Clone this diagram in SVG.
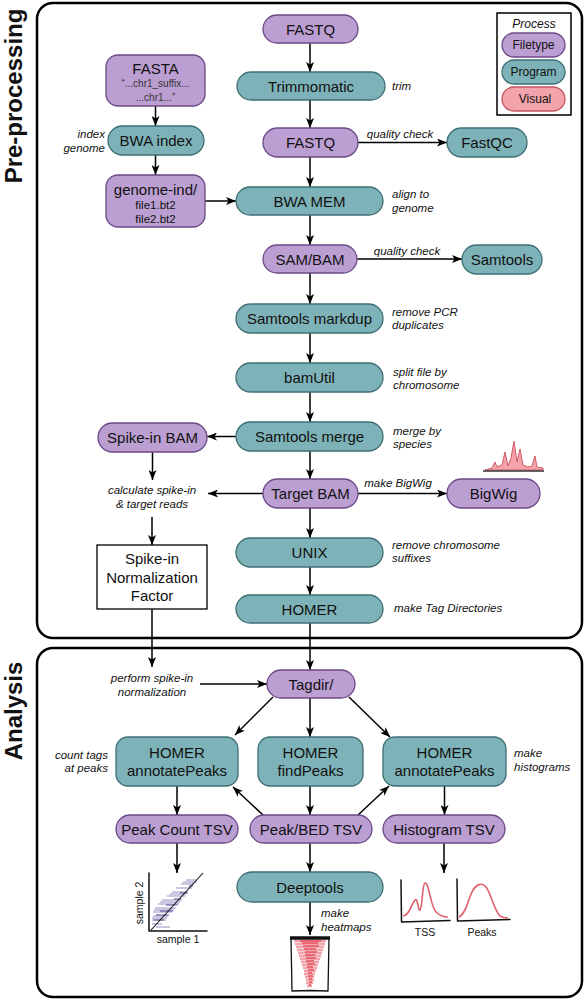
<svg xmlns="http://www.w3.org/2000/svg" width="587" height="1000" viewBox="0 0 587 1000">
<defs>
<style>
.fp{fill:#bc9fd2;stroke:#6b4a88;stroke-width:1.3}
.pg{fill:#7db3b8;stroke:#3e6f74;stroke-width:1.3}
.vs{fill:#f3a3ab;stroke:#c55763;stroke-width:1.3}
text{font-family:"Liberation Sans",Arial,sans-serif;fill:#111}
.t{font-size:15px;text-anchor:middle}
.s{font-size:11.5px;text-anchor:middle}
.l{font-size:11.5px;font-style:italic}
.lm{font-size:11.5px;font-style:italic;text-anchor:middle}
.lr{font-size:11.5px;font-style:italic;text-anchor:end}
.c{stroke:#000;stroke-width:1.5;fill:none;marker-end:url(#ah)}
.panel{fill:none;stroke:#000;stroke-width:2.5}
.side{font-size:24px;font-weight:bold;text-anchor:middle}
.ax{stroke:#111;stroke-width:1.5;fill:none;stroke-linecap:round;stroke-linejoin:round}
.red{stroke:#e0606c;stroke-width:1.6;fill:none}
.sm{font-size:10.5px;text-anchor:middle}
</style>
<marker id="ah" viewBox="0 0 10 8" refX="10" refY="4" markerWidth="10" markerHeight="8" orient="auto" markerUnits="userSpaceOnUse"><path d="M0,0 L10,4 L0,8 L2.5,4 z" fill="#000"/></marker>
</defs>
<rect width="587" height="1000" fill="#fff"/>

<g id="panels">
<rect class="panel" x="37" y="3" width="545" height="635" rx="16"/>
<rect class="panel" x="37" y="648" width="545" height="349" rx="16"/>
<text class="side" transform="translate(22,96) rotate(-90)">Pre-processing</text>
<text class="side" transform="translate(22,711) rotate(-90)">Analysis</text>
</g>

<g id="legend">
<rect x="497" y="13" width="74" height="102" fill="#fff" stroke="#000" stroke-width="1.5"/>
<text x="534" y="28" style="font-size:12px;font-style:italic;text-anchor:middle">Process</text>
<rect class="fp" x="502" y="33" width="63" height="24" rx="12"/>
<text x="533.5" y="49" style="font-size:12px;text-anchor:middle">Filetype</text>
<rect class="pg" x="502" y="60" width="63" height="24" rx="12"/>
<text x="533.5" y="76" style="font-size:12px;text-anchor:middle">Program</text>
<rect class="vs" x="502" y="87" width="63" height="24" rx="12"/>
<text x="535" y="103" style="font-size:12px;text-anchor:middle">Visual</text>
</g>

<g id="connectors">
<line class="c" x1="310" y1="43" x2="310" y2="72"/>
<line class="c" x1="310" y1="100" x2="310" y2="128"/>
<line class="c" x1="310" y1="157" x2="310" y2="187"/>
<line class="c" x1="310" y1="215" x2="310" y2="245"/>
<line class="c" x1="310" y1="273" x2="310" y2="304"/>
<line class="c" x1="310" y1="333" x2="310" y2="363"/>
<line class="c" x1="310" y1="392" x2="310" y2="422"/>
<line class="c" x1="310" y1="451" x2="310" y2="479"/>
<line class="c" x1="310" y1="508" x2="310" y2="538"/>
<line class="c" x1="310" y1="567" x2="310" y2="595"/>
<line class="c" x1="310" y1="623" x2="310" y2="670"/>
<line class="c" x1="155.5" y1="106" x2="155.5" y2="126"/>
<line class="c" x1="155.5" y1="155" x2="155.5" y2="175"/>
<line class="c" x1="205" y1="201" x2="236" y2="201"/>
<line class="c" x1="358" y1="142.5" x2="447" y2="142.5"/>
<line class="c" x1="357" y1="259" x2="462" y2="259"/>
<line class="c" x1="236" y1="436.5" x2="207" y2="436.5"/>
<line class="c" x1="152.5" y1="452" x2="152.5" y2="480"/>
<line class="c" x1="263" y1="493.5" x2="208" y2="493.5"/>
<line class="c" x1="358" y1="493.5" x2="447" y2="493.5"/>
<line class="c" x1="152" y1="517" x2="152" y2="545"/>
<line class="c" x1="152" y1="609" x2="152" y2="667"/>
<line class="c" x1="200" y1="684" x2="267" y2="684"/>
<line class="c" x1="273" y1="697" x2="235" y2="735"/>
<line class="c" x1="310" y1="698" x2="310" y2="737"/>
<line class="c" x1="349" y1="697" x2="390" y2="737"/>
<line class="c" x1="177" y1="786" x2="177" y2="815"/>
<line class="c" x1="310" y1="786" x2="310" y2="815"/>
<line class="c" x1="444.5" y1="786" x2="444.5" y2="815"/>
<line class="c" x1="263" y1="815" x2="233" y2="787"/>
<line class="c" x1="358" y1="815" x2="389" y2="786"/>
<line class="c" x1="177" y1="843" x2="177" y2="873"/>
<line class="c" x1="310" y1="843" x2="310" y2="872"/>
<line class="c" x1="444" y1="843" x2="444" y2="873"/>
<line class="c" x1="310" y1="902" x2="310" y2="935"/>
</g>

<g id="labels">
<text class="lr" x="105" y="138">index</text>
<text class="lr" x="105" y="152">genome</text>
<text class="l" x="392" y="90">trim</text>
<text class="lm" x="400" y="138">quality check</text>
<text class="l" x="392" y="198">align to</text>
<text class="l" x="392" y="212">genome</text>
<text class="lm" x="407" y="255">quality check</text>
<text class="l" x="392" y="316">remove PCR</text>
<text class="l" x="392" y="329">duplicates</text>
<text class="l" x="393" y="376">split file by</text>
<text class="l" x="393" y="389">chromosome</text>
<text class="l" x="393" y="435">merge by</text>
<text class="l" x="393" y="448">species</text>
<text class="lm" x="398" y="487">make BigWig</text>
<text class="lm" x="152" y="494">calculate spike-in</text>
<text class="lm" x="152" y="508">&amp; target reads</text>
<text class="l" x="392" y="549">remove chromosome</text>
<text class="l" x="392" y="562">suffixes</text>
<text class="l" x="394" y="612">make Tag Directories</text>
<text class="lm" x="152" y="682">perform spike-in</text>
<text class="lm" x="152" y="696">normalization</text>
<text class="lr" x="108" y="759">count tags</text>
<text class="lr" x="108" y="772">at peaks</text>
<text class="l" x="514" y="757">make</text>
<text class="l" x="514" y="771">histograms</text>
<text class="l" x="321" y="917">make</text>
<text class="l" x="321" y="931">heatmaps</text>
</g>

<g id="fastq1"><rect class="fp" x="263" y="15" width="95" height="28" rx="14"/><text class="t" x="310.5" y="34.5">FASTQ</text></g>
<g id="trimmomatic"><rect class="pg" x="237" y="72" width="148" height="28" rx="14"/><text class="t" x="311" y="91.5">Trimmomatic</text></g>
<g id="fastq2"><rect class="fp" x="263" y="128" width="95" height="29" rx="14.5"/><text class="t" x="310.5" y="148">FASTQ</text></g>
<g id="fastqc"><rect class="pg" x="447" y="128" width="80" height="29" rx="14.5"/><text class="t" x="487" y="148">FastQC</text></g>
<g id="fasta"><rect class="fp" x="106" y="55" width="99" height="51" rx="12"/><text class="t" x="155.5" y="73.5">FASTA</text><text x="155.5" y="86.5" style="font-size:10px;text-anchor:middle;fill:#333">“...chr1_suffix...</text><text x="155.5" y="100.5" style="font-size:10px;text-anchor:middle;fill:#333">...chr1...”</text></g>
<g id="bwaindex"><rect class="pg" x="108" y="126" width="96" height="29" rx="14.5"/><text class="t" x="156" y="146">BWA index</text></g>
<g id="genomeind"><rect class="fp" x="106" y="175" width="99" height="52" rx="12"/><text class="t" x="155.5" y="195">genome-ind/</text><text class="s" x="155.5" y="208.5">file1.bt2</text><text class="s" x="155.5" y="222.5">file2.bt2</text></g>
<g id="bwamem"><rect class="pg" x="236" y="187" width="147" height="28" rx="14"/><text class="t" x="309.5" y="206.5">BWA MEM</text></g>
<g id="sambam"><rect class="fp" x="263" y="245" width="94" height="28" rx="14"/><text class="t" x="310" y="264.5">SAM/BAM</text></g>
<g id="samtoolsqc"><rect class="pg" x="462" y="245" width="80" height="29" rx="14.5"/><text class="t" x="502" y="265">Samtools</text></g>
<g id="markdup"><rect class="pg" x="236" y="304" width="147" height="29" rx="14.5"/><text class="t" x="309.5" y="324">Samtools markdup</text></g>
<g id="bamutil"><rect class="pg" x="236" y="363" width="147" height="29" rx="14.5"/><text class="t" x="309.5" y="383">bamUtil</text></g>
<g id="merge"><rect class="pg" x="236" y="422" width="147" height="29" rx="14.5"/><text class="t" x="309.5" y="442">Samtools merge</text></g>
<g id="spikeinbam"><rect class="fp" x="98" y="423" width="109" height="29" rx="14.5"/><text class="t" x="152.5" y="443">Spike-in BAM</text></g>
<g id="targetbam"><rect class="fp" x="263" y="479" width="95" height="29" rx="14.5"/><text class="t" x="310.5" y="499">Target BAM</text></g>
<g id="bigwig"><rect class="fp" x="447" y="479" width="93" height="29" rx="14.5"/><text class="t" x="493.5" y="499">BigWig</text></g>
<g id="unix"><rect class="pg" x="236" y="538" width="147" height="29" rx="14.5"/><text class="t" x="309.5" y="558">UNIX</text></g>
<g id="homer"><rect class="pg" x="236" y="595" width="147" height="28" rx="14"/><text class="t" x="309.5" y="614.5">HOMER</text></g>
<g id="normfactor"><rect x="97" y="545" width="110" height="64" fill="#fff" stroke="#000" stroke-width="1.3"/><text class="t" x="152" y="564">Spike-in</text><text class="t" x="152" y="583">Normalization</text><text class="t" x="152" y="601">Factor</text></g>
<g id="tagdir"><rect class="fp" x="267" y="670" width="88" height="28" rx="14"/><text class="t" x="311" y="689.5">Tagdir/</text></g>
<g id="annot1"><rect class="pg" x="116" y="737" width="122" height="49" rx="12"/><text class="t" x="177" y="758">HOMER</text><text class="t" x="177" y="776">annotatePeaks</text></g>
<g id="findpeaks"><rect class="pg" x="258" y="737" width="105" height="49" rx="12"/><text class="t" x="310.5" y="758">HOMER</text><text class="t" x="310.5" y="776">findPeaks</text></g>
<g id="annot2"><rect class="pg" x="383" y="737" width="123" height="49" rx="12"/><text class="t" x="444.5" y="758">HOMER</text><text class="t" x="444.5" y="776">annotatePeaks</text></g>
<g id="peakcount"><rect class="fp" x="116" y="815" width="122" height="28" rx="14"/><text class="t" x="177" y="834.5">Peak Count TSV</text></g>
<g id="peakbed"><rect class="fp" x="250" y="815" width="122" height="28" rx="14"/><text class="t" x="311" y="834.5">Peak/BED TSV</text></g>
<g id="histtsv"><rect class="fp" x="383" y="815" width="122" height="28" rx="14"/><text class="t" x="444" y="834.5">Histogram TSV</text></g>
<g id="deeptools"><rect class="pg" x="237" y="872" width="146" height="30" rx="15"/><text class="t" x="310" y="892.5">Deeptools</text></g>

<g id="bigwig-track">
<path d="M485,470 L492,468 L495,462 L497,467 L502,465 L505,452 L508,466 L511,458 L514,441 L517,462 L520,449 L523,465 L528,467 L532,466 L535,456 L537,467 L543,468 L543,470 Z" fill="#f4a3ab" stroke="#d05a66" stroke-width="1"/>
<line x1="483" y1="471" x2="544" y2="471" stroke="#333" stroke-width="1.5"/>
</g>

<g id="scatter">
<path d="M186,880H196M181,884H194M176,888H192M172,892H188M167,896H185M162,900H182M158,904H179M155,908H176M153,912H172M153,916H168M152,920H166M152,924H162M156,927H170M183,882H197M170,894H186M160,902H180M154,910H174M152,918H167" stroke="#9d93c4" stroke-width="1.6" opacity="0.7" fill="none"/>
<path d="M189,886H193M180,893H188M174,899H181M166,905H177M160,911H173M156,915H169M154,920H164" stroke="#6f62a3" stroke-width="1.4" opacity="0.8" fill="none"/>
<path class="ax" d="M149,873 L149,931 L207,931"/>
<line x1="151" y1="930" x2="203" y2="873" stroke="#111" stroke-width="1.1"/>
<text class="sm" transform="translate(143,903) rotate(-90)">sample 2</text>
<text class="sm" x="178" y="943">sample 1</text>
</g>

<g id="histograms">
<path class="ax" d="M401,880 L401.5,922 L450,920.5"/>
<path class="red" d="M403,916 C409,916 411,905 415,900 C418,897 418,912 420,910 C423,905 422,884 425,883 C429,882 430,905 436,912 C440,916 444,917 448,917"/>
<text class="sm" x="425" y="936">TSS</text>
<path class="ax" d="M457,879 L457.5,921 L510,919.5"/>
<path class="red" d="M459,917 C466,914 468,900 472,892 C476,884 482,882 486,887 C491,893 494,910 500,916 C503,918 506,918 508,918"/>
<text class="sm" x="482" y="936">Peaks</text>
</g>

<g id="heatmap">
<path d="M294,941H326M295,944H325M296,947H324M297,950H323M298,953H322M299,956H321M300,959H320M301,962H319M302,965H318M303,968H317M304,971H316M304,974H315M305,977H314M306,980H314M306,983H313M307,986H312" stroke="#f3a4ab" stroke-width="2.6" fill="none"/>
<path d="M300,941H321M302,943H318M303,946H319M304,949H316M305,952H317M305,955H315M306,958H316M306,961H314M307,964H315M307,967H313M308,970H314M308,973H312M308,976H313M309,979H312M309,982H312M309,985H311" stroke="#e2505e" stroke-width="1.5" fill="none"/>
<path d="M291,939 L291.5,965 L292,991 L310,990.5 L328,991 L328.5,965 L329,938" stroke="#111" stroke-width="1.3" fill="none" stroke-linejoin="round"/>
<line x1="290" y1="938" x2="330" y2="938" stroke="#111" stroke-width="3.5"/>
</g>
</svg>
